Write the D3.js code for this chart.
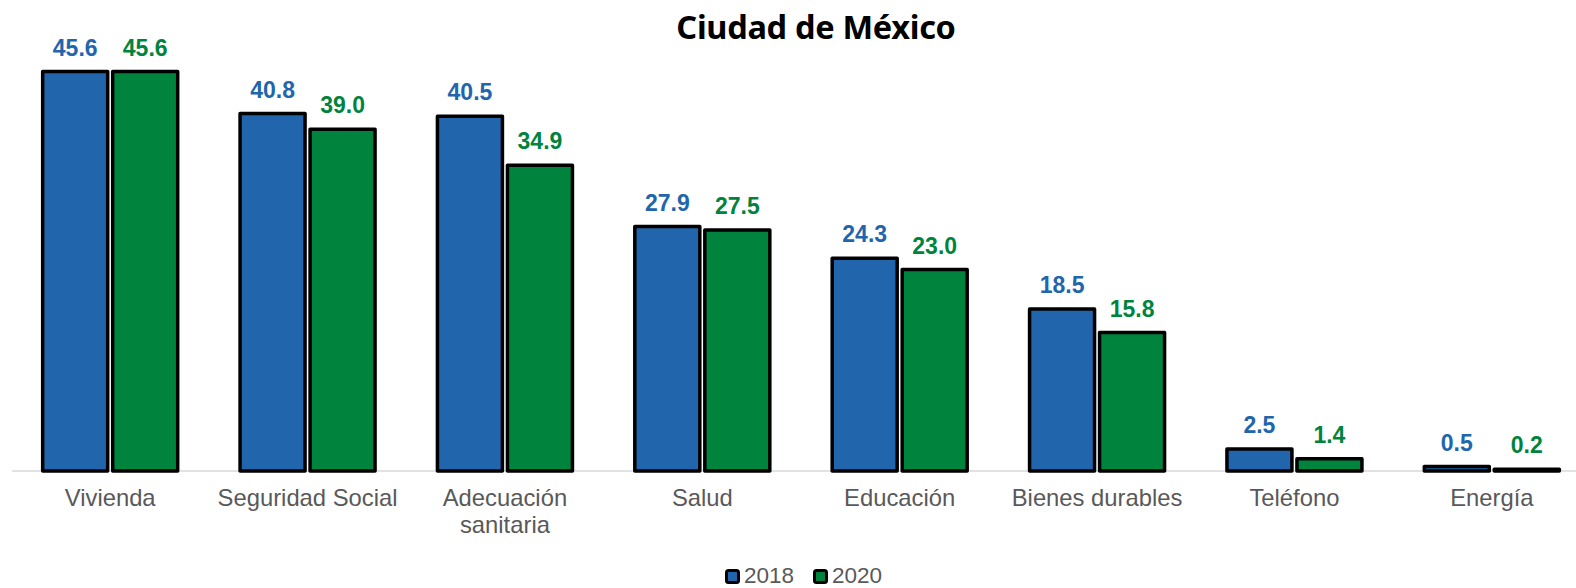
<!DOCTYPE html>
<html>
<head>
<meta charset="utf-8">
<script src="https://cdn.jsdelivr.net/npm/d3@7"></script>
<style>
  body { margin: 0; background: #fff; }
  svg { display: block; }
</style>
</head>
<body>
<svg id="chart" width="1576" height="588"></svg>
<script>
var categories = ["Vivienda", "Seguridad Social", "Adecuación sanitaria", "Salud", "Educación", "Bienes durables", "Teléfono", "Energía"]
var series = ["2018", "2020"]
var values2018 = [45.6, 40.8, 40.5, 27.9, 24.3, 18.5, 2.5, 0.5]
var values2020 = [45.6, 39.0, 34.9, 27.5, 23.0, 15.8, 1.4, 0.2]
var colors = ["#2166ac", "#00843d"]

var svg = d3.select("#chart")
var width = 1576
var baseline = 471

var rows = categories.map((c, i) => ({
    cat: c,
    vals: [{s: series[0], v: values2018[i], k: 0}, {s: series[1], v: values2020[i], k: 1}]
}))

var x0 = d3.scaleBand()
    .domain(categories)
    .range([11.5, 1590.5])
    .paddingInner(0.316)
    .paddingOuter(0.158)

var x1 = d3.scaleBand()
    .domain(series)
    .range([0, x0.bandwidth()])
    .paddingInner(5 / 70)

var y = d3.scaleLinear()
    .domain([0, 50])
    .range([baseline, baseline - 438])

// title
svg.append("text")
    .attr("x", 816)
    .attr("y", 39)
    .attr("text-anchor", "middle")
    .style("font-family", "'Noto Sans', sans-serif")
    .style("font-weight", "bold")
    .style("font-size", "32.5px")
    .style("letter-spacing", "-0.3px")
    .text("Ciudad de México")

// axis line
svg.append("line")
    .attr("x1", 12).attr("x2", width)
    .attr("y1", baseline).attr("y2", baseline)
    .attr("stroke", "#d9d9d9")
    .attr("stroke-width", 1.5)

var group = svg.append("g")
    .selectAll("g")
    .data(rows)
    .enter().append("g")
    .attr("transform", d => "translate(" + x0(d.cat) + ",0)")

group.selectAll("rect")
    .data(d => d.vals)
    .enter().append("rect")
    .attr("x", d => x1(d.s))
    .attr("y", d => y(d.v))
    .attr("width", x1.bandwidth())
    .attr("height", d => baseline - y(d.v))
    .attr("fill", d => colors[d.k])
    .attr("stroke", "#000")
    .attr("stroke-width", 3.5)
    .attr("stroke-linejoin", "round")

group.selectAll("text.val")
    .data(d => d.vals)
    .enter().append("text")
    .attr("class", "val")
    .attr("x", d => x1(d.s) + x1.bandwidth() / 2)
    .attr("y", d => y(d.v) - 16)
    .attr("text-anchor", "middle")
    .attr("fill", d => colors[d.k])
    .style("font-family", "'Liberation Sans', Arial, sans-serif")
    .style("font-weight", "bold")
    .style("font-size", "23px")
    .text(d => d.v.toFixed(1))

// category labels (wrapped)
var wrap = {"Adecuación sanitaria": ["Adecuación", "sanitaria"]}
var xAxis = svg.append("g")
xAxis.selectAll("text")
    .data(categories)
    .enter().append("text")
    .attr("x", d => x0(d) + x0.bandwidth() / 2)
    .attr("y", 506)
    .attr("text-anchor", "middle")
    .attr("fill", "#595959")
    .style("font-family", "'Liberation Sans', Arial, sans-serif")
    .style("font-size", "23.8px")
    .each(function(d) {
        var lines = wrap[d] || [d]
        var t = d3.select(this)
        lines.forEach((l, i) => {
            t.append("tspan")
                .attr("x", x0(d) + x0.bandwidth() / 2)
                .attr("dy", i == 0 ? 0 : 27)
                .text(l)
        })
    })

// legend
var legendX = [725, 813]
var legend = svg.append("g")
    .selectAll("g")
    .data(series)
    .enter().append("g")
    .attr("transform", (d, i) => "translate(" + legendX[i] + ",569)")

legend.append("rect")
    .attr("x", 1.5).attr("y", 1.5)
    .attr("width", 12).attr("height", 12)
    .attr("rx", 2)
    .attr("fill", (d, i) => colors[i])
    .attr("stroke", "#000")
    .attr("stroke-width", 3)

legend.append("text")
    .attr("x", 19)
    .attr("y", 14)
    .attr("fill", "#595959")
    .style("font-family", "'Liberation Sans', Arial, sans-serif")
    .style("font-size", "22.5px")
    .text(d => d)
</script>
</body>
</html>
